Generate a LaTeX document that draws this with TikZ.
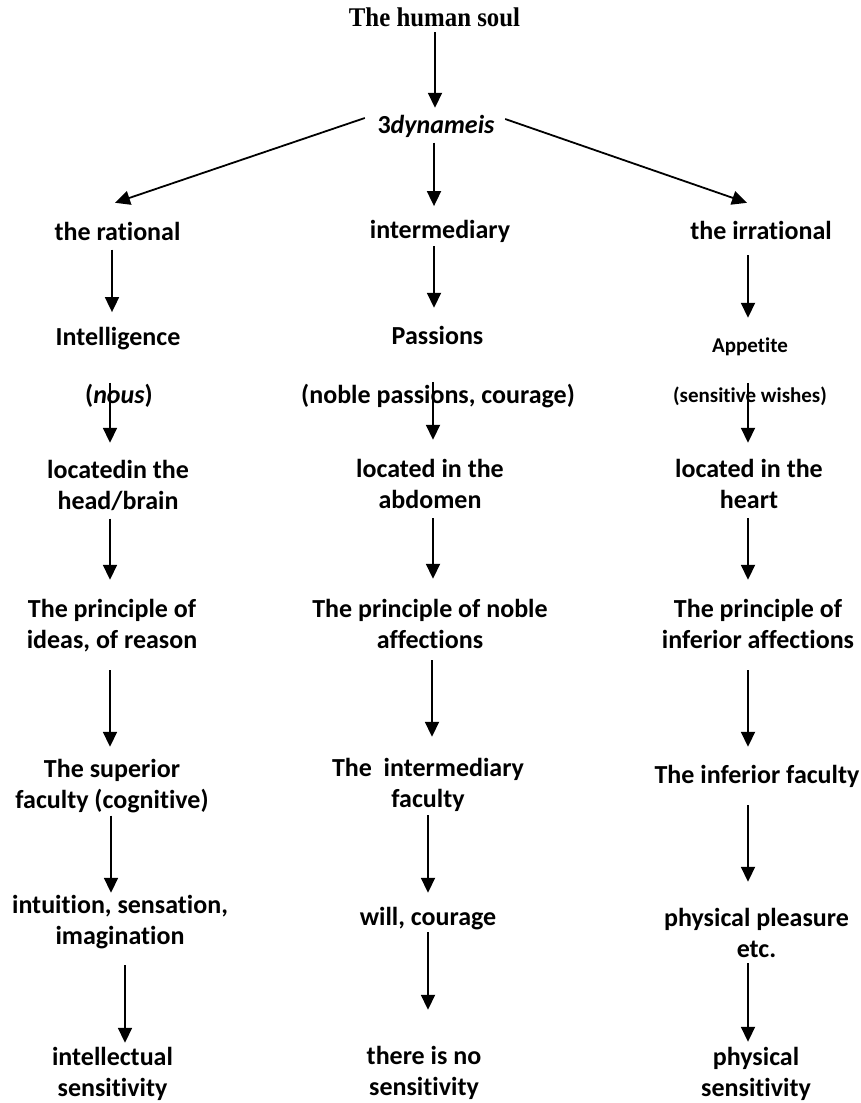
\documentclass[tikz,border=0pt]{standalone}
\usepackage{fontspec}
\setmainfont{Carlito}[Ligatures=NoCommon]
\newfontfamily\timesf{Liberation Serif}[FakeStretch=0.92]
\usetikzlibrary{arrows.meta}
\begin{document}
\begin{tikzpicture}[x=1pt,y=-1pt,
  txt/.style={font=\bfseries\fontsize{26}{31}\selectfont, align=center, inner sep=0pt, anchor=center},
  smalltxt/.style={font=\bfseries\fontsize{21}{25}\selectfont, align=center, inner sep=0pt, anchor=center},
  titletxt/.style={font=\timesf\bfseries\fontsize{27}{30}\selectfont, inner sep=0pt, anchor=center},
  arr/.style={line width=1.8pt, -{Triangle[length=15pt,width=14pt]}}]
\useasboundingbox[fill=white] (0,0) rectangle (861,1103);

% top
\node[titletxt] (T) at (434.5,20) {\strut The human soul};
\node[txt] (D) at (436,126.8) {\strut 3\textit{dynameis}};

% left column
\node[txt] (L1) at (117.5,233.8) {\strut the rational};
\node[txt] (L2) at (118,338.8) {\strut Intelligence};
\node[txt] (L3) at (119,396.8) {\strut (\textit{nous})};
\node[txt] (L4) at (118,487.3) {\strut locatedin the\\\strut head/brain};
\node[txt] (L5) at (112,626.3) {\strut The principle of\\\strut ideas, of reason};
\node[txt] (L6) at (112,786.3) {\strut The superior\\\strut faculty (cognitive)};
\node[txt] (L7) at (120,922.3) {\strut intuition, sensation,\\\strut imagination};
\node[txt] (L8) at (112.5,1074.3) {\strut intellectual\\\strut sensitivity};

% middle column
\node[txt] (M1) at (440,231.8) {\strut intermediary};
\node[txt] (M2) at (437.5,337.8) {\strut Passions};
\node[txt] (M3) at (438,396.8) {\strut (noble passions, courage)};
\node[txt] (M4) at (430,486.8) {\strut located in the\\\strut abdomen};
\node[txt] (M5) at (430,626.3) {\strut The principle of noble\\\strut affections};
\node[txt] (M6) at (428,785.3) {\strut The\ \ intermediary\\\strut faculty};
\node[txt] (M7) at (428,918.8) {\strut will, courage};
\node[txt] (M8) at (424,1073.3) {\strut there is no\\\strut sensitivity};

% right column
\node[txt] (R1) at (761,232.8) {\strut the irrational};
\node[smalltxt] (R2) at (750,347) {\strut Appetite};
\node[smalltxt] (R3) at (750,397) {\strut (sensitive wishes)};
\node[txt] (R4) at (749,486.3) {\strut located in the\\\strut heart};
\node[txt] (R5) at (758,626.3) {\strut The principle of\\\strut inferior affections};
\node[txt] (R6) at (757,776.8) {\strut The inferior faculty};
\node[txt] (R7) at (756.5,935.3) {\strut physical pleasure\\\strut etc.};
\node[txt] (R8) at (756,1074.3) {\strut physical\\\strut sensitivity};

% top arrows
\draw[arr, shorten <=-3pt, shorten >=3.3pt] ([xshift=0.5pt]T.south) -- ([xshift=0.5pt]T.south |- D.north);
\draw[arr, shorten >=10pt] ([xshift=-2pt]D.south) -- ([xshift=-2pt]D.south |- M1.north);
\draw[arr] ([xshift=-12.5pt,yshift=8.8pt]D.west) -- ([xshift=-2.5pt,yshift=15.3pt]L1.north);
\draw[arr] ([xshift=10.5pt,yshift=7.8pt]D.east) -- ([xshift=-14pt,yshift=14.3pt]R1.north);

% left arrows
\draw[arr, shorten >=11pt] ([xshift=-5.5pt]L1.south) -- ([xshift=-5.5pt]L1.south |- L2.north);
\draw[arr, shorten <=1.7pt, shorten >=13.3pt] ([xshift=-9pt]L3.north) -- ([xshift=-9pt]L3.north |- L4.north);
\draw[arr, shorten >=15.3pt] ([xshift=-8pt]L4.south) -- ([xshift=-8pt]L4.south |- L5.north);
\draw[arr, shorten <=12.7pt, shorten >=8.3pt] ([xshift=-2pt]L5.south) -- ([xshift=-2pt]L5.south |- L6.north);
\draw[arr, shorten <=-2pt, shorten >=-1.7pt] ([xshift=-1pt]L6.south) -- ([xshift=-1pt]L6.south |- L7.north);
\draw[arr, shorten <=11.7pt, shorten >=0.3pt] ([xshift=5pt]L7.south) -- ([xshift=5pt]L7.south |- L8.north);

% middle arrows
\draw[arr, shorten <=-1.3pt, shorten >=14.3pt] ([xshift=-6pt]M1.south) -- ([xshift=-6pt]M1.south |- M2.north);
\draw[arr, shorten <=0.7pt, shorten >=15.8pt] ([xshift=-5pt]M3.north) -- ([xshift=-5pt]M3.north |- M4.north);
\draw[arr, shorten >=16.3pt] ([xshift=3pt]M4.south) -- ([xshift=3pt]M4.south |- M5.north);
\draw[arr, shorten <=2.7pt, shorten >=17.3pt] ([xshift=2pt]M5.south) -- ([xshift=2pt]M5.south |- M6.north);
\draw[arr, shorten <=-1.3pt, shorten >=10.3pt] (M6.south) -- (M6.south |- M7.north);
\draw[arr, shorten <=-2.3pt, shorten >=32.3pt] (M7.south) -- (M7.south |- M8.north);

% right arrows
\draw[arr, shorten <=6.7pt, shorten >=16.5pt] ([xshift=-13pt]R1.south) -- ([xshift=-13pt]R1.south |- R2.north);
\draw[arr, shorten <=-1.5pt, shorten >=12.3pt] ([xshift=-2pt]R3.north) -- ([xshift=-2pt]R3.north |- R4.north);
\draw[arr, shorten <=0.7pt, shorten >=15.3pt] ([xshift=-1pt]R4.south) -- ([xshift=-1pt]R4.south |- R5.north);
\draw[arr, shorten <=12.7pt, shorten >=14.3pt] ([xshift=-10pt]R5.south) -- ([xshift=-10pt]R5.south |- R6.north);
\draw[arr, shorten <=12.7pt, shorten >=22.3pt] ([xshift=-9pt]R6.south) -- ([xshift=-9pt]R6.south |- R7.north);
\draw[arr, shorten <=-3.3pt, shorten >=1.3pt] ([xshift=-8.5pt]R7.south) -- ([xshift=-8.5pt]R7.south |- R8.north);
\end{tikzpicture}
\end{document}
